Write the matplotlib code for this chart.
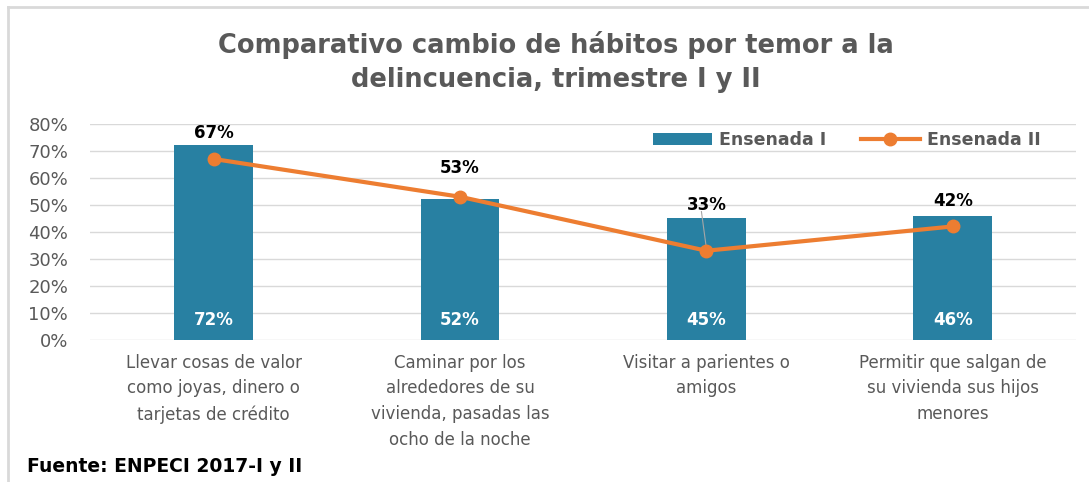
import matplotlib.pyplot as plt
from matplotlib.lines import Line2D
from matplotlib.ticker import FuncFormatter

plt.rcParams['font.family'] = ['DejaVu Sans']

# datos
categorias = ['Llevar cosas de valor\ncomo joyas, dinero o\ntarjetas de crédito',
              'Caminar por los\nalrededores de su\nvivienda, pasadas las\nocho de la noche',
              'Visitar a parientes o\namigos',
              'Permitir que salgan de\nsu vivienda sus hijos\nmenores']
ensenada_1 = [72, 52, 45, 46]
ensenada_2 = [67, 53, 33, 42]
# altura de las etiquetas de la serie II (colocadas a mano en el original)
etiqueta_2_y = [76.5, 63.5, 50, 51.5]

azul = '#2880A2'
naranja = '#ED7D31'
gris = '#595959'

fig = plt.figure(figsize=(10.89, 4.82), dpi=100)
ax = fig.add_axes([0.083, 0.295, 0.905, 0.448])

x = range(len(categorias))
barras = ax.bar(x, ensenada_1, width=0.32, color=azul, label='Ensenada I', zorder=2)
linea, = ax.plot(x, ensenada_2, color=naranja, linewidth=3, marker='o', markersize=9,
                 label='Ensenada II', zorder=3)

# etiquetas
for i, v in enumerate(ensenada_1):
    ax.text(i, 7.5, f'{v}%', ha='center', va='center', color='white',
            fontsize=12, fontweight='bold', zorder=4)
for i, v in enumerate(ensenada_2):
    ax.text(i, etiqueta_2_y[i], f'{v}%', ha='center', va='center', color='black',
            fontsize=12, fontweight='bold', zorder=4)
# línea guía de la etiqueta 33%
ax.plot([1.98, 2.0], [etiqueta_2_y[2] - 2.5, ensenada_2[2] + 1], color='#A6A6A6',
        linewidth=0.8, zorder=2)

ax.set_ylim(0, 80)
ax.set_xlim(-0.5, 3.5)
ax.set_yticks(range(0, 81, 10))
ax.yaxis.set_major_formatter(FuncFormatter(lambda v, p: f'{int(v)}%'))
ax.grid(axis='y', color='#D9D9D9', linewidth=1, zorder=0)
ax.set_axisbelow(True)
for s in ax.spines.values():
    s.set_visible(False)
ax.tick_params(axis='y', length=0, labelsize=13, labelcolor=gris, pad=16)
ax.tick_params(axis='x', length=0, labelsize=12, labelcolor=gris, pad=10)
ax.set_xticks(list(x))
ax.set_xticklabels(categorias, linespacing=1.55)

leg = ax.legend([barras, linea], ['Ensenada I', 'Ensenada II'], loc='upper right',
                bbox_to_anchor=(0.98, 1.04), ncol=2, frameon=False,
                fontsize=12.5, handlelength=3.4, columnspacing=2.0, handletextpad=0.4)
for t in leg.get_texts():
    t.set_color(gris)
    t.set_fontweight('bold')

fig.text(0.51, 0.872, 'Comparativo cambio de hábitos por temor a la\ndelincuencia, trimestre I y II',
         ha='center', va='center', fontsize=18.5, fontweight='bold', color=gris,
         linespacing=1.4)
fig.text(0.025, 0.032, 'Fuente: ENPECI 2017-I y II', ha='left', va='center',
         fontsize=13.5, fontweight='bold', color='black')

# marco
fig.add_artist(Line2D([0.0075, 1], [0.985, 0.985], color='#D9D9D9', linewidth=2,
                      transform=fig.transFigure))
fig.add_artist(Line2D([0.0075, 0.0075], [0, 0.985], color='#D9D9D9', linewidth=2,
                      transform=fig.transFigure))

fig.savefig('out.png', dpi=100)
